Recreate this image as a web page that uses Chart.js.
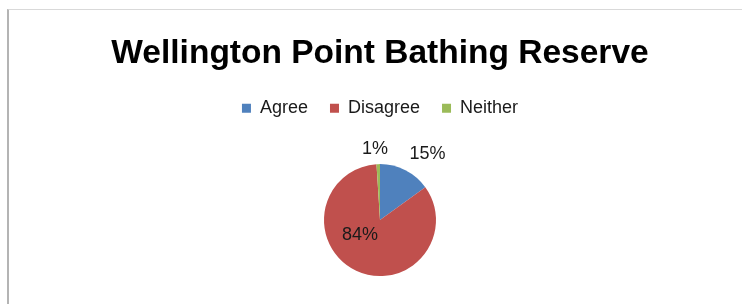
<!DOCTYPE html>
<html>
<head>
<meta charset="utf-8">
<script src="https://cdn.jsdelivr.net/npm/chart.js@4"></script>
<style>
  html, body { margin: 0; padding: 0; background: #fff; }
  #wrap { position: relative; width: 742px; height: 304px; }
  #frame {
    position: absolute; left: 7px; top: 9px; right: 0; bottom: 0;
    border-left: 2px solid #b4b4b4; border-top: 1px solid #d9d9d9;
    pointer-events: none;
  }
  canvas { position: absolute; left: 0; top: 0; }
</style>
</head>
<body>
<div id="wrap">
  <div id="frame"></div>
  <canvas id="chart" width="742" height="304"></canvas>
</div>
<script>
const categories = ['Agree', 'Disagree', 'Neither'];
const shares = [15, 84, 1];
const sliceColors = ['#4F81BD', '#C0504D', '#9BBB59'];

// label placement: radial factor plus a small nudge (px)
const labelRadius = [1.3, 0.42, 1.27];
const labelNudge = [[14.5, -1.6], [-10, -6], [-2.8, 0]];

const pctLabels = {
  id: 'pctLabels',
  afterDatasetsDraw(chart) {
    const ctx = chart.ctx;
    const meta = chart.getDatasetMeta(0);
    ctx.save();
    ctx.font = '18px "Liberation Sans", Arial, sans-serif';
    ctx.fillStyle = '#1a1a1a';
    ctx.textAlign = 'center';
    ctx.textBaseline = 'middle';
    meta.data.forEach((arc, i) => {
      const p = arc.getProps(['x', 'y', 'startAngle', 'endAngle', 'outerRadius'], true);
      const mid = (p.startAngle + p.endAngle) / 2;
      const r = p.outerRadius * labelRadius[i];
      const x = p.x + Math.cos(mid) * r + labelNudge[i][0];
      const y = p.y + Math.sin(mid) * r + labelNudge[i][1];
      ctx.fillText(shares[i] + '%', x, y);
    });
    ctx.restore();
  }
};

// extra gap under the legend, so the pie sits lower
const legendGap = {
  id: 'legendGap',
  beforeInit(chart) {
    const origFit = chart.legend.fit;
    chart.legend.fit = function () {
      origFit.call(this);
      this.height += 13;
    };
  }
};

new Chart(document.getElementById('chart').getContext('2d'), {
  type: 'pie',
  data: {
    labels: categories,
    datasets: [{
      data: shares,
      backgroundColor: sliceColors,
      borderWidth: 0,
      radius: 56
    }]
  },
  options: {
    responsive: false,
    animation: false,
    layout: { padding: { left: 18, right: 0, top: 0, bottom: 4 } },
    plugins: {
      title: {
        display: true,
        text: 'Wellington Point Bathing Reserve',
        color: '#000',
        font: { family: '"Liberation Sans", Arial, sans-serif', size: 33.5, weight: 'bold', lineHeight: 1.2 },
        padding: { top: 34, bottom: 3 }
      },
      legend: {
        display: true,
        position: 'top',
        labels: {
          color: '#1a1a1a',
          font: { family: '"Liberation Sans", Arial, sans-serif', size: 18 },
          boxWidth: 9,
          boxHeight: 9,
          padding: 22
        }
      },
      tooltip: { enabled: false }
    }
  },
  plugins: [legendGap, pctLabels]
});
</script>
</body>
</html>
